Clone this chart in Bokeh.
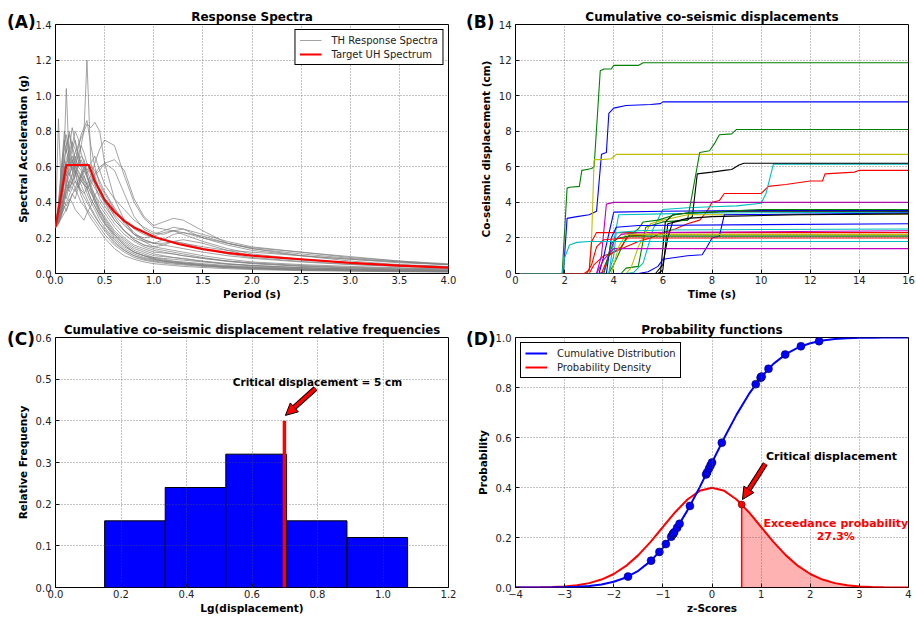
import math
from bokeh.plotting import figure
from bokeh.layouts import column, row
from bokeh.models import (Range1d, FixedTicker, Label, Legend, LegendItem,
                          Arrow, NormalHead, PrintfTickFormatter, Div)
from bokeh.embed import file_html
from bokeh.resources import INLINE

FONT = "DejaVu Sans"

# ---------------- (A) Response spectra ----------------
PERIODS = [0, 0.03, 0.06, 0.09, 0.11, 0.14, 0.17, 0.2, 0.23, 0.26, 0.29, 0.32, 0.36, 0.4, 0.45,
           0.5, 0.6, 0.7, 0.8, 0.9, 1.0, 1.1, 1.2, 1.3, 1.5, 1.75, 2.0, 2.5, 3.0, 3.5, 4.0]
SPECTRA = [
    [0.26, 0.30, 0.42, 0.55, 0.50, 0.62, 0.58, 0.66, 0.60, 0.72, 0.80, 1.20, 0.62, 0.55, 0.45, 0.40, 0.30, 0.24, 0.19, 0.16, 0.14, 0.13, 0.12, 0.11, 0.09, 0.07, 0.06, 0.045, 0.035, 0.03, 0.025],
    [0.26, 0.35, 0.55, 0.70, 1.04, 0.62, 0.70, 0.60, 0.55, 0.52, 0.50, 0.48, 0.42, 0.38, 0.33, 0.28, 0.20, 0.15, 0.12, 0.10, 0.08, 0.07, 0.065, 0.06, 0.05, 0.04, 0.035, 0.025, 0.02, 0.015, 0.012],
    [0.26, 0.87, 0.45, 0.60, 0.55, 0.65, 0.58, 0.52, 0.48, 0.55, 0.50, 0.45, 0.40, 0.36, 0.30, 0.26, 0.19, 0.14, 0.11, 0.09, 0.08, 0.07, 0.06, 0.055, 0.045, 0.035, 0.03, 0.022, 0.018, 0.014, 0.011],
    [0.26, 0.30, 0.35, 0.45, 0.50, 0.55, 0.62, 0.68, 0.72, 0.76, 0.80, 0.84, 0.82, 0.85, 0.80, 0.62, 0.42, 0.30, 0.22, 0.18, 0.15, 0.14, 0.13, 0.12, 0.10, 0.08, 0.065, 0.05, 0.04, 0.032, 0.026],
    [0.26, 0.28, 0.33, 0.40, 0.45, 0.50, 0.55, 0.60, 0.58, 0.55, 0.52, 0.50, 0.55, 0.62, 0.70, 0.75, 0.72, 0.55, 0.40, 0.31, 0.26, 0.25, 0.24, 0.23, 0.20, 0.17, 0.145, 0.12, 0.095, 0.07, 0.05],
    [0.26, 0.30, 0.38, 0.45, 0.42, 0.50, 0.48, 0.52, 0.50, 0.47, 0.45, 0.48, 0.50, 0.55, 0.58, 0.62, 0.64, 0.58, 0.42, 0.32, 0.27, 0.29, 0.31, 0.30, 0.24, 0.17, 0.14, 0.10, 0.07, 0.05, 0.04],
    [0.26, 0.32, 0.40, 0.52, 0.58, 0.55, 0.60, 0.58, 0.55, 0.52, 0.50, 0.48, 0.52, 0.56, 0.60, 0.62, 0.58, 0.45, 0.32, 0.25, 0.22, 0.24, 0.26, 0.25, 0.20, 0.16, 0.13, 0.10, 0.08, 0.06, 0.05],
    [0.26, 0.40, 0.60, 0.75, 0.68, 0.80, 0.72, 0.65, 0.60, 0.58, 0.52, 0.48, 0.42, 0.38, 0.32, 0.28, 0.22, 0.17, 0.13, 0.11, 0.09, 0.08, 0.07, 0.065, 0.055, 0.045, 0.038, 0.028, 0.022, 0.018, 0.015],
    [0.26, 0.28, 0.32, 0.38, 0.35, 0.40, 0.45, 0.42, 0.48, 0.52, 0.55, 0.50, 0.45, 0.42, 0.36, 0.32, 0.24, 0.19, 0.15, 0.13, 0.11, 0.10, 0.09, 0.085, 0.07, 0.055, 0.045, 0.032, 0.025, 0.02, 0.016],
    [0.26, 0.34, 0.48, 0.62, 0.72, 0.78, 0.70, 0.75, 0.68, 0.60, 0.55, 0.50, 0.46, 0.40, 0.34, 0.29, 0.21, 0.16, 0.12, 0.10, 0.085, 0.075, 0.068, 0.06, 0.05, 0.04, 0.033, 0.025, 0.019, 0.015, 0.012],
    [0.26, 0.30, 0.36, 0.42, 0.48, 0.52, 0.56, 0.62, 0.70, 0.78, 0.82, 0.86, 0.72, 0.60, 0.50, 0.45, 0.36, 0.28, 0.22, 0.19, 0.17, 0.16, 0.15, 0.14, 0.12, 0.10, 0.085, 0.065, 0.05, 0.04, 0.032],
    [0.26, 0.29, 0.33, 0.37, 0.40, 0.44, 0.48, 0.46, 0.50, 0.55, 0.58, 0.62, 0.58, 0.50, 0.42, 0.38, 0.30, 0.24, 0.20, 0.18, 0.17, 0.19, 0.22, 0.23, 0.21, 0.17, 0.14, 0.11, 0.085, 0.065, 0.05],
    [0.26, 0.31, 0.40, 0.50, 0.56, 0.48, 0.52, 0.58, 0.50, 0.44, 0.40, 0.36, 0.33, 0.30, 0.26, 0.22, 0.16, 0.12, 0.09, 0.075, 0.065, 0.058, 0.052, 0.048, 0.04, 0.032, 0.026, 0.019, 0.015, 0.012, 0.01],
    [0.26, 0.36, 0.52, 0.65, 0.70, 0.60, 0.66, 0.62, 0.57, 0.54, 0.58, 0.55, 0.50, 0.44, 0.38, 0.34, 0.26, 0.20, 0.16, 0.14, 0.12, 0.115, 0.11, 0.10, 0.085, 0.07, 0.058, 0.042, 0.032, 0.026, 0.02],
    [0.26, 0.30, 0.34, 0.40, 0.38, 0.42, 0.40, 0.36, 0.34, 0.32, 0.30, 0.34, 0.38, 0.44, 0.48, 0.42, 0.32, 0.24, 0.19, 0.16, 0.15, 0.16, 0.18, 0.19, 0.17, 0.13, 0.10, 0.075, 0.06, 0.048, 0.038],
    [0.26, 0.33, 0.44, 0.56, 0.62, 0.66, 0.72, 0.80, 0.76, 0.68, 0.62, 0.55, 0.48, 0.42, 0.36, 0.30, 0.22, 0.16, 0.12, 0.10, 0.09, 0.085, 0.08, 0.075, 0.065, 0.052, 0.044, 0.032, 0.025, 0.02, 0.016],
    [0.26, 0.29, 0.34, 0.42, 0.46, 0.52, 0.50, 0.56, 0.62, 0.66, 0.64, 0.58, 0.52, 0.48, 0.44, 0.40, 0.33, 0.27, 0.22, 0.20, 0.21, 0.23, 0.24, 0.22, 0.18, 0.14, 0.11, 0.08, 0.06, 0.047, 0.037],
    [0.26, 0.32, 0.45, 0.58, 0.64, 0.70, 0.64, 0.58, 0.54, 0.50, 0.46, 0.42, 0.37, 0.33, 0.28, 0.24, 0.17, 0.13, 0.10, 0.085, 0.075, 0.068, 0.062, 0.056, 0.046, 0.037, 0.03, 0.022, 0.017, 0.014, 0.011],
    [0.26, 0.28, 0.31, 0.34, 0.36, 0.40, 0.44, 0.48, 0.52, 0.56, 0.60, 0.58, 0.62, 0.66, 0.58, 0.50, 0.42, 0.36, 0.30, 0.26, 0.23, 0.22, 0.24, 0.25, 0.22, 0.18, 0.15, 0.12, 0.09, 0.07, 0.055],
    [0.26, 0.38, 0.56, 0.72, 0.78, 0.70, 0.82, 0.74, 0.66, 0.62, 0.58, 0.54, 0.48, 0.44, 0.40, 0.36, 0.28, 0.22, 0.18, 0.15, 0.13, 0.12, 0.11, 0.10, 0.085, 0.068, 0.055, 0.04, 0.03, 0.024, 0.019],
    [0.26, 0.30, 0.37, 0.46, 0.52, 0.58, 0.64, 0.60, 0.66, 0.72, 0.68, 0.62, 0.55, 0.50, 0.46, 0.42, 0.36, 0.30, 0.25, 0.22, 0.20, 0.19, 0.18, 0.17, 0.15, 0.13, 0.12, 0.10, 0.08, 0.065, 0.05],
    [0.26, 0.34, 0.46, 0.55, 0.60, 0.57, 0.52, 0.48, 0.44, 0.40, 0.38, 0.35, 0.31, 0.28, 0.24, 0.20, 0.14, 0.10, 0.08, 0.065, 0.055, 0.05, 0.045, 0.04, 0.034, 0.027, 0.022, 0.016, 0.013, 0.01, 0.008],
    [0.26, 0.33, 0.50, 0.64, 0.60, 0.68, 0.74, 0.70, 0.64, 0.60, 0.62, 0.56, 0.47, 0.41, 0.35, 0.31, 0.23, 0.18, 0.14, 0.12, 0.10, 0.095, 0.09, 0.082, 0.068, 0.054, 0.045, 0.033, 0.026, 0.021, 0.017],
    [0.26, 0.29, 0.36, 0.44, 0.50, 0.46, 0.52, 0.55, 0.60, 0.64, 0.60, 0.56, 0.60, 0.58, 0.52, 0.46, 0.37, 0.29, 0.23, 0.19, 0.17, 0.17, 0.18, 0.17, 0.14, 0.11, 0.09, 0.068, 0.052, 0.041, 0.033],
    [0.26, 0.37, 0.58, 0.80, 0.74, 0.66, 0.62, 0.56, 0.50, 0.46, 0.43, 0.40, 0.36, 0.32, 0.28, 0.25, 0.18, 0.13, 0.10, 0.08, 0.07, 0.063, 0.058, 0.052, 0.043, 0.034, 0.028, 0.02, 0.016, 0.013, 0.01],
]
UH_PERIODS = [0, 0.11, 0.34, 0.4, 0.5, 0.6, 0.7, 0.8, 1.0, 1.25, 1.5, 1.75, 2.0, 2.5, 3.0, 3.5, 4.0]
UH_SA = [0.26, 0.61, 0.61, 0.52, 0.415, 0.346, 0.296, 0.259, 0.207, 0.166, 0.137, 0.116, 0.100, 0.080, 0.060, 0.044, 0.033]

# ---------------- (B) Cumulative displacements ----------------
DISP_COLORS = ["#0000ff", "#008000", "#ff0000", "#00bfbf", "#bf00bf", "#bfbf00", "#000000",
               "#0000ff", "#008000", "#ff0000", "#00bfbf", "#bf00bf", "#bfbf00", "#000000",
               "#0000ff", "#008000", "#ff0000", "#00bfbf", "#bf00bf", "#bfbf00", "#000000",
               "#0000ff", "#008000", "#ff0000", "#00bfbf"]
DISP_T = [
    [0, 1.95, 2.1, 2.5, 3.0, 3.3, 3.5, 3.7, 3.8, 4.0, 4.5, 5.5, 5.9, 6.0, 16],
    [0, 1.9, 2.1, 2.2, 2.6, 2.7, 2.9, 3.1, 3.2, 3.45, 3.6, 3.9, 4.0, 5.0, 5.2, 16],
    [0, 3.0, 3.2, 3.6, 4.0, 4.5, 5.0, 5.5, 6.0, 6.5, 7.0, 7.5, 7.8, 8.0, 8.3, 8.5, 10.0, 10.3, 11.0, 12.0, 12.5, 12.6, 13.8, 14.0, 16],
    [0, 4.5, 4.8, 5.2, 5.6, 6.0, 7.0, 8.0, 9.0, 10.0, 10.2, 10.5, 16],
    [0, 3.3, 3.5, 3.7, 4.0, 16],
    [0, 3.0, 3.1, 3.2, 3.5, 3.9, 4.1, 16],
    [0, 5.8, 6.0, 6.2, 6.8, 7.0, 7.2, 7.4, 8.0, 8.5, 8.8, 9.1, 9.3, 16],
    [0, 3.4, 3.6, 4.0, 6.0, 10.0, 16],
    [0, 4.3, 4.5, 5.0, 5.3, 6.0, 7.0, 7.2, 7.5, 7.9, 8.1, 8.3, 8.8, 9.0, 16],
    [0, 2.8, 3.0, 3.1, 3.3, 4.0, 16],
    [0, 3.8, 4.0, 4.2, 6.0, 8.0, 16],
    [0, 3.4, 3.6, 3.8, 4.0, 4.3, 5.0, 16],
    [0, 4.5, 4.7, 5.0, 5.5, 6.0, 7.0, 16],
    [0, 5.9, 6.1, 6.4, 7.0, 9.0, 16],
    [0, 5.0, 5.4, 5.8, 6.0, 7.0, 7.6, 7.8, 8.0, 8.3, 8.5, 16],
    [0, 3.8, 4.0, 4.5, 5.0, 5.2, 5.8, 6.5, 7.0, 10.0, 16],
    [0, 3.5, 3.8, 4.0, 4.3, 4.6, 5.5, 6.0, 6.3, 16],
    [0, 3.8, 4.0, 4.1, 5.0, 6.0, 16],
    [0, 3.3, 3.6, 4.0, 16],
    [0, 3.9, 4.2, 4.5, 16],
    [0, 5.7, 6.0, 6.2, 6.4, 7.0, 8.0, 11.5, 16],
    [0, 3.7, 3.9, 4.1, 5.0, 16],
    [0, 3.6, 3.9, 4.2, 4.6, 16],
    [0, 2.9, 3.1, 3.3, 3.6, 4.5, 16],
    [0, 1.9, 2.0, 2.2, 2.5, 3.0, 16],
]
DISP_V = [
    [0, 0, 3.1, 3.2, 3.3, 3.5, 6.7, 6.8, 9.0, 9.3, 9.45, 9.5, 9.55, 9.65, 9.65],
    [0, 0, 4.8, 4.85, 4.9, 5.8, 5.85, 5.9, 6.0, 11.4, 11.5, 11.5, 11.7, 11.7, 11.85, 11.85],
    [0, 0, 0.5, 1.0, 1.2, 1.5, 1.8, 2.0, 2.3, 2.5, 2.8, 3.0, 3.5, 4.0, 4.1, 4.5, 4.5, 4.9, 5.0, 5.2, 5.2, 5.6, 5.7, 5.8, 5.8],
    [0, 0, 0.05, 0.6, 2.5, 3.6, 3.7, 3.75, 3.8, 3.95, 4.5, 6.15, 6.15],
    [0, 0, 1.0, 3.9, 4.0, 4.0],
    [0, 0, 2.0, 6.4, 6.4, 6.45, 6.7, 6.7],
    [0, 0, 0.2, 2.8, 3.0, 3.0, 3.2, 5.6, 5.7, 5.8, 5.85, 6.1, 6.2, 6.2],
    [0, 0, 1.0, 3.45, 3.5, 3.55, 3.55],
    [0, 0, 0.3, 0.4, 2.6, 2.9, 3.0, 4.5, 6.8, 6.9, 7.3, 7.8, 7.85, 8.1, 8.1],
    [0, 0, 0.2, 1.8, 2.3, 2.3, 2.3],
    [0, 0, 1.8, 3.3, 3.35, 3.4, 3.45],
    [0, 0, 0.1, 1.0, 1.8, 2.2, 2.3, 2.4],
    [0, 0, 0.3, 1.5, 2.8, 3.0, 3.3, 3.33],
    [0, 0, 2.9, 3.3, 3.4, 3.5, 3.5],
    [0, 0, 0.1, 0.4, 0.8, 1.0, 1.05, 1.5, 2.0, 2.1, 3.3, 3.4],
    [0, 0, 0.5, 2.0, 2.5, 2.9, 3.0, 3.3, 3.4, 3.6, 3.6],
    [0, 0, 1.0, 1.2, 1.5, 2.1, 2.2, 2.2, 2.18, 2.18],
    [0, 0, 1.0, 2.3, 2.4, 2.45, 2.5],
    [0, 0, 0.8, 1.4, 1.4],
    [0, 0, 1.5, 2.2, 2.2],
    [0, 0, 0.5, 2.0, 2.9, 3.1, 3.2, 3.3, 3.35],
    [0, 0, 2.0, 2.6, 2.7, 2.8],
    [0, 0, 1.7, 2.0, 2.1, 2.1],
    [0, 0, 0.5, 1.5, 1.9, 2.0, 2.0],
    [0, 0, 0.9, 1.6, 1.75, 1.8, 1.8],
]

# ---------------- (C) Histogram ----------------
BIN_EDGES = [0.15, 0.335, 0.52, 0.705, 0.89, 1.075]
REL_FREQ = [0.16, 0.24, 0.32, 0.16, 0.12]
LG_CRITICAL = 0.699
CRIT_LINE_TOP = 0.4
C_TEXT_POS = (0.80, 0.493)
C_ARROW = (0.794, 0.478, 0.702, 0.413)

# ---------------- (D) Probability functions ----------------
Z_GRID = [-4.0, -3.75, -3.5, -3.25, -3.0, -2.75, -2.5, -2.25, -2.0, -1.75, -1.5, -1.25, -1.0,
          -0.75, -0.5, -0.25, 0.0, 0.25, 0.5, 0.75, 1.0, 1.25, 1.5, 1.75, 2.0, 2.25, 2.5, 2.75,
          3.0, 3.25, 3.5, 3.75, 4.0]
CDF_VALUES = [0.0, 0.0001, 0.0002, 0.0006, 0.0013, 0.0030, 0.0062, 0.0122, 0.0228, 0.0401,
              0.0668, 0.1056, 0.1587, 0.2266, 0.3085, 0.4013, 0.5, 0.5987, 0.6915, 0.7734,
              0.8413, 0.8944, 0.9332, 0.9599, 0.9772, 0.9878, 0.9938, 0.9970, 0.9987, 0.9994,
              0.9998, 0.9999, 1.0]
PDF_VALUES = [0.0001, 0.0004, 0.0009, 0.0020, 0.0044, 0.0091, 0.0175, 0.0317, 0.0540, 0.0863,
              0.1295, 0.1826, 0.2420, 0.3011, 0.3521, 0.3867, 0.3989, 0.3867, 0.3521, 0.3011,
              0.2420, 0.1826, 0.1295, 0.0863, 0.0540, 0.0317, 0.0175, 0.0091, 0.0044, 0.0020,
              0.0009, 0.0004, 0.0001]
SAMPLE_Z = [-1.71, -1.24, -1.07, -0.94, -0.83, -0.80, -0.79, -0.77, -0.71, -0.66, -0.45, -0.12,
            -0.10, -0.06, -0.03, 0.0, 0.20, 0.89, 0.99, 1.00, 1.01, 1.15, 1.49, 1.81, 2.18]
SAMPLE_CDF = [0.0436, 0.1075, 0.1423, 0.1736, 0.2033, 0.2119, 0.2148, 0.2206, 0.2389, 0.2546,
              0.3264, 0.4522, 0.4602, 0.4761, 0.4880, 0.5, 0.5793, 0.8133, 0.8389, 0.8413,
              0.8438, 0.8749, 0.9319, 0.9649, 0.9854]
Z_CRIT = 0.604
PDF_CRIT = 0.332
D_ARROW = (1.085, 0.495, 0.62, 0.352)

PANEL_LETTERS = ["(A)", "(B)", "(C)", "(D)"]


def make_fig(w, h, bl, br, bt, bb, xr, yr, xt, yt, title, xlabel, ylabel, fmt_x=None, fmt_y=None,
             title_size="12px"):
    p = figure(width=w, height=h, min_border_left=bl, min_border_right=br,
               min_border_top=bt, min_border_bottom=bb,
               x_range=Range1d(*xr), y_range=Range1d(*yr),
               output_backend="svg", toolbar_location=None, tools="", title=title)
    p.title.align = "center"
    p.title.text_font = FONT
    p.title.text_font_size = title_size
    p.title.text_font_style = "bold"
    p.title.text_color = "black"
    p.title.standoff = 1
    p.xaxis.ticker = FixedTicker(ticks=xt, minor_ticks=[])
    p.yaxis.ticker = FixedTicker(ticks=yt, minor_ticks=[])
    if fmt_x:
        p.xaxis.formatter = PrintfTickFormatter(format=fmt_x)
    if fmt_y:
        p.yaxis.formatter = PrintfTickFormatter(format=fmt_y)
    for ax, lab in ((p.xaxis[0], xlabel), (p.yaxis[0], ylabel)):
        ax.axis_line_color = None
        ax.major_tick_in = 4
        ax.major_tick_out = 0
        ax.major_tick_line_color = "black"
        ax.minor_tick_line_color = None
        ax.major_label_text_font = FONT
        ax.major_label_text_font_size = "10px"
        ax.major_label_text_color = "#222222"
        ax.axis_label = lab
        ax.axis_label_text_font = FONT
        ax.axis_label_text_font_size = "10.5px"
        ax.axis_label_text_font_style = "bold"
        ax.axis_label_text_color = "black"
    p.xaxis[0].major_label_standoff = 2
    p.xaxis[0].axis_label_standoff = 1
    p.yaxis[0].major_label_standoff = 4
    p.yaxis[0].axis_label_standoff = 4
    p.grid.grid_line_color = "#555555"
    p.grid.grid_line_dash = "1 2"
    p.grid.grid_line_width = 0.7
    p.grid.level = "guide"
    p.outline_line_color = "black"
    p.outline_line_width = 1
    p.outline_line_alpha = 1
    p.background_fill_color = "white"
    p.border_fill_color = "white"
    return p


def add_text(p, x, y, text, size, bold=True, color="black", align="center"):
    p.add_layout(Label(x=x, y=y, text=text, text_font=FONT,
                       text_font_size=f"{size}px", text_font_style="bold" if bold else "normal",
                       text_align=align, text_baseline="middle", text_color=color))


def style_legend(leg):
    leg.label_text_font = FONT
    leg.label_text_font_size = "10px"
    leg.label_text_color = "#222222"
    leg.border_line_color = "black"
    leg.border_line_width = 1
    leg.border_line_alpha = 1
    leg.background_fill_alpha = 1
    leg.padding = 4
    leg.spacing = 2
    leg.label_height = 12
    leg.glyph_height = 12
    leg.glyph_width = 22
    leg.label_standoff = 10
    leg.margin = 5


# ---- Figure A  (canvas 0..458 x 0..302)
pA = make_fig(458, 302, 55, 10, 24, 29, (0, 4), (0, 1.4),
              [0, 0.5, 1.0, 1.5, 2.0, 2.5, 3.0, 3.5, 4.0], [0, 0.2, 0.4, 0.6, 0.8, 1.0, 1.2, 1.4],
              "Response Spectra", "Period (s)", "Spectral Acceleration (g)", "%.1f", "%.1f")
gray_rs = []
for sp in SPECTRA:
    n = min(len(sp), len(PERIODS))
    gray_rs.append(pA.line(PERIODS[:n], sp[:n], line_color="#808080", line_width=0.8, line_alpha=0.9))
red_r = pA.line(UH_PERIODS, UH_SA, line_color="#ff0000", line_width=2.2)
legA = Legend(items=[LegendItem(label="TH Response Spectra", renderers=[gray_rs[0]]),
                     LegendItem(label="Target UH Spectrum", renderers=[red_r])], location="top_right")
style_legend(legA)
pA.add_layout(legA)

# ---- Figure B  (canvas 458..916)
pB = make_fig(458, 302, 57, 8, 24, 29, (0, 16), (0, 14),
              [0, 2, 4, 6, 8, 10, 12, 14, 16], [0, 2, 4, 6, 8, 10, 12, 14],
              "Cumulative co-seismic displacements", "Time (s)", "Co-seismic displacement (cm)")
for t, v, c in zip(DISP_T, DISP_V, DISP_COLORS):
    n = min(len(t), len(v))
    pB.line(t[:n], v[:n], line_color=c, line_width=1.1)

# ---- Figure C  (canvas 0..458 x 302..617)
pC = make_fig(458, 315, 55, 10, 35, 30, (0, 1.2), (0, 0.6),
              [0, 0.2, 0.4, 0.6, 0.8, 1.0, 1.2], [0, 0.1, 0.2, 0.3, 0.4, 0.5, 0.6],
              "Cumulative co-seismic displacement relative frequencies", "Lg(displacement)",
              "Relative Frequency", "%.1f", "%.1f", title_size="11.7px")
pC.quad(left=BIN_EDGES[:-1], right=BIN_EDGES[1:], bottom=0, top=REL_FREQ,
        fill_color="#0000ff", line_color="black", line_width=1)
pC.segment(x0=[LG_CRITICAL], y0=[0], x1=[LG_CRITICAL], y1=[CRIT_LINE_TOP], line_color="#ff0000", line_width=3.5)
xs, ys, xe, ye = C_ARROW
pC.add_layout(Arrow(x_start=xs, y_start=ys, x_end=xs + (xe - xs) * 0.72, y_end=ys + (ye - ys) * 0.72,
                    end=None, line_color="black", line_width=5.5))
pC.add_layout(Arrow(x_start=xs, y_start=ys, x_end=xe, y_end=ye,
                    end=NormalHead(size=12, fill_color="#ff0000", line_color="black", line_width=1),
                    line_color="#ff0000", line_width=3.5))
add_text(pC, C_TEXT_POS[0], C_TEXT_POS[1], "Critical displacement = 5 cm", 10.5)

# ---- Figure D  (canvas 458..916 x 302..617)
pD = make_fig(458, 315, 57, 8, 35, 30, (-4, 4), (0, 1.0),
              [-4, -3, -2, -1, 0, 1, 2, 3, 4], [0, 0.2, 0.4, 0.6, 0.8, 1.0],
              "Probability functions", "z-Scores", "Probability", None, "%.1f")
pD.xaxis[0].major_label_overrides = {-4: "\u22124", -3: "\u22123", -2: "\u22122", -1: "\u22121"}
fx = [Z_CRIT] + [z for z in Z_GRID if z > Z_CRIT]
fy = [PDF_CRIT] + [pv for z, pv in zip(Z_GRID, PDF_VALUES) if z > Z_CRIT]
pD.varea(x=fx, y1=[0] * len(fx), y2=fy, fill_color="#ff0000", fill_alpha=0.3)
pdf_r = pD.line(Z_GRID, PDF_VALUES, line_color="#ff0000", line_width=2)
cdf_r = pD.line(Z_GRID, CDF_VALUES, line_color="#0000ff", line_width=2)
pD.segment(x0=[Z_CRIT], y0=[0], x1=[Z_CRIT], y1=[PDF_CRIT], line_color="#ff0000", line_width=1.5)
pD.scatter(SAMPLE_Z, SAMPLE_CDF, size=8, fill_color="#0000ff", line_color="#000033", line_width=0.5)
pD.scatter([Z_CRIT], [PDF_CRIT], size=7, fill_color="#ff0000", line_color="#330000", line_width=0.5)
xs, ys, xe, ye = D_ARROW
pD.add_layout(Arrow(x_start=xs, y_start=ys, x_end=xs + (xe - xs) * 0.72, y_end=ys + (ye - ys) * 0.72,
                    end=None, line_color="black", line_width=5.5))
pD.add_layout(Arrow(x_start=xs, y_start=ys, x_end=xe, y_end=ye,
                    end=NormalHead(size=12, fill_color="#ff0000", line_color="black", line_width=1),
                    line_color="#ff0000", line_width=3.5))
add_text(pD, 1.1, 0.525, "Critical displacement", 11, align="left")
add_text(pD, 2.52, 0.256, "Exceedance probability", 11, color="#ff0000")
add_text(pD, 2.52, 0.204, "27.3%", 11, color="#ff0000")
legD = Legend(items=[LegendItem(label="Cumulative Distribution", renderers=[cdf_r]),
                     LegendItem(label="Probability Density", renderers=[pdf_r])], location="top_left")
style_legend(legD)
pD.add_layout(legD)

# ---- panel letters, overlaid in the empty top-left corners of each panel
letter_pos = [(2, 9), (461, 9), (2, 326), (461, 326)]
letters_html = "".join(
    f'<div style="position:absolute;left:{x}px;top:{y}px;font-family:\'DejaVu Sans\';'
    f'font-weight:bold;font-size:17px;line-height:1;color:black;white-space:nowrap;">{t}</div>'
    for t, (x, y) in zip(PANEL_LETTERS, letter_pos))
overlay = Div(text=letters_html, width=0, height=0,
              styles={"position": "absolute", "left": "0px", "top": "0px",
                      "z-index": "10", "overflow": "visible"})

layout = column(row(pA, pB), row(pC, pD), overlay)
open("out.html", "w").write(file_html(layout, INLINE))
